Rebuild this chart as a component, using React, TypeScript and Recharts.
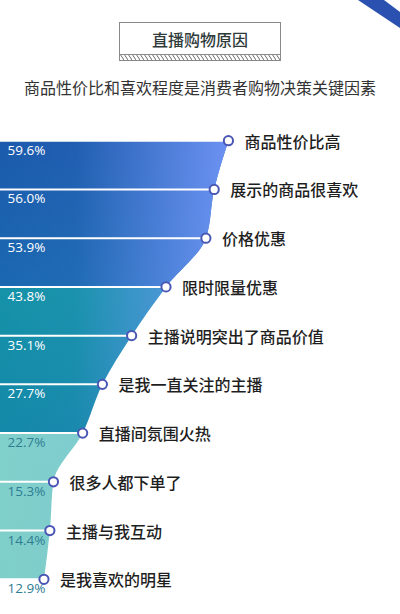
import React from 'react';
import { AreaChart, Area, XAxis, YAxis } from 'recharts';

const categories = [
  '商品性价比高',
  '展示的商品很喜欢',
  '价格优惠',
  '限时限量优惠',
  '主播说明突出了商品价值',
  '是我一直关注的主播',
  '直播间氛围火热',
  '很多人都下单了',
  '主播与我互动',
  '是我喜欢的明星',
];
const values = [59.6, 56.0, 53.9, 43.8, 35.1, 27.7, 22.7, 15.3, 14.4, 12.9];
const percentLabels = ['59.6%', '56.0%', '53.9%', '43.8%', '35.1%', '27.7%', '22.7%', '15.3%', '14.4%', '12.9%'];

const title = '直播购物原因';
const subtitle = '商品性价比和喜欢程度是消费者购物决策关键因素';

const data = categories.map((name, i) => ({ name, value: values[i], label: percentLabels[i] }));

const FONT = '"Noto Sans CJK SC", "Noto Sans", sans-serif';

const renderDot = (props: any) => {
  const { cx, cy, index, payload } = props;
  if (cx == null || cy == null) return null;
  const light = index >= 6;
  return (
    <g key={`dot-${index}`}>
      <line x1={0} y1={cy} x2={cx} y2={cy} stroke="#ffffff" strokeWidth={2} />
      <circle cx={cx} cy={cy} r={4.6} fill="#ffffff" stroke="#4a56b4" strokeWidth={2} />
      <text
        x={14.5}
        y={cy + 14}
        fontSize={13.5}
        fontFamily='"Open Sans", sans-serif'
        fontWeight={500}
        fill={light ? '#2e7d92' : '#ffffff'}
      >
        {payload.label}
      </text>
      <text
        x={cx + 16}
        y={cy}
        dominantBaseline="central"
        fontSize={16}
        fontFamily={FONT}
        fontWeight={500}
        fill="#1e1e1e"
      >
        {payload.name}
      </text>
    </g>
  );
};

export default function App() {
  return (
    <div
      style={{
        position: 'absolute',
        left: 0,
        top: 0,
        width: 400,
        height: 614,
        overflow: 'hidden',
        background: '#ffffff',
      }}
    >
      <svg width={400} height={614} style={{ position: 'absolute', left: 0, top: 0 }}>
        <defs>
          <pattern id="hatch" width={4} height={6} patternUnits="userSpaceOnUse">
            <path d="M0,0 L4,6" stroke="#6a6a6a" strokeWidth={1} />
          </pattern>
        </defs>
        <polygon points="358,0 384,0 400,12 400,28" fill="#2a50b0" />
        <rect x={119.5} y={22.5} width={161} height={38} fill="#ffffff" stroke="#8a8a8a" strokeWidth={1} />
        <rect x={120} y={54.5} width={160} height={6} fill="url(#hatch)" />
        <line x1={119.5} y1={54.5} x2={280.5} y2={54.5} stroke="#8a8a8a" strokeWidth={1} />
        <text x={200} y={39} textAnchor="middle" dominantBaseline="central" fontSize={16} fontFamily={FONT} fontWeight={500} fill="#2f3b3b">
          {title}
        </text>
        <text x={200} y={87} textAnchor="middle" dominantBaseline="central" fontSize={16} fontFamily={FONT} fill="#333333">
          {subtitle}
        </text>
      </svg>
      <div style={{ position: 'absolute', left: -7, top: 0 }}>
        <AreaChart
          width={407}
          height={614}
          data={data}
          layout="vertical"
          margin={{ top: 140.7, bottom: 34.7, left: 0, right: 12 }}
        >
          <defs>
            <linearGradient id="vgrad" x1="0" y1="0" x2="0" y2="1">
              <stop offset="0" stopColor="#1b5aac" />
              <stop offset="0.33" stopColor="#1a68b0" />
              <stop offset="0.332" stopColor="#1592a8" />
              <stop offset="0.667" stopColor="#1388a8" />
              <stop offset="0.669" stopColor="#80d0cb" />
              <stop offset="1" stopColor="#7fcfc9" />
            </linearGradient>
            <linearGradient id="hgrad" x1="0" y1="0" x2="1" y2="0">
              <stop offset="0" stopColor="#7b9cff" stopOpacity={0} />
              <stop offset="0.35" stopColor="#7b9cff" stopOpacity={0.06} />
              <stop offset="1" stopColor="#7b9cff" stopOpacity={0.85} />
            </linearGradient>
          </defs>
          <XAxis type="number" domain={[0, 100]} hide />
          <YAxis type="category" dataKey="name" hide />
          <Area
            dataKey="value"
            type="monotone"
            stroke="none"
            fill="url(#vgrad)"
            fillOpacity={1}
            isAnimationActive={false}
            dot={false}
            activeDot={false}
          />
          <Area
            dataKey="value"
            type="monotone"
            stroke="none"
            fill="url(#hgrad)"
            fillOpacity={1}
            isAnimationActive={false}
            dot={renderDot}
            activeDot={false}
          />
        </AreaChart>
      </div>
    </div>
  );
}
